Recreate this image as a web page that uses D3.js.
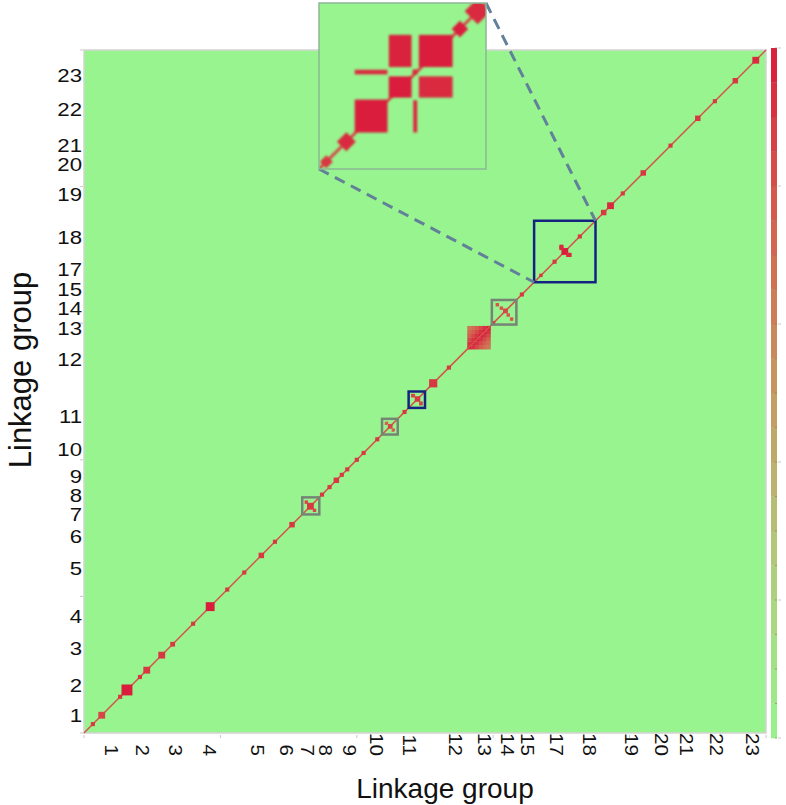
<!DOCTYPE html>
<html><head><meta charset="utf-8">
<script src="https://cdn.jsdelivr.net/npm/d3@7"></script>
<style>body{margin:0;background:#fff}</style>
</head><body>
<svg id="c" width="786" height="805"></svg>
<script>
// ---------- data ----------
const xTickLabels = ["1","2","3","4","5","6","7","8","9","10","11","12","13","14","15","17","18","19","20","21","22","23"];
const xTickPos    = [0.039,0.085,0.134,0.183,0.254,0.296,0.327,0.354,0.389,0.428,0.476,0.544,0.587,0.620,0.650,0.692,0.740,0.802,0.846,0.883,0.927,0.980];
const yTickLabels = ["1","2","3","4","5","6","7","8","9","10","11","12","13","14","15","17","18","19","20","21","22","23"];
const yTickPos    = [0.026,0.070,0.124,0.171,0.240,0.287,0.320,0.347,0.375,0.415,0.463,0.546,0.592,0.621,0.649,0.678,0.725,0.788,0.832,0.860,0.912,0.963];

// diagonal contact blocks: genome position (fraction), block width (fraction), value (0-1)
const diagPos   = [0.013,0.026,0.053,0.063,0.082,0.092,0.114,0.130,0.160,0.185,0.210,0.235,0.260,0.280,0.305,0.332,0.349,0.360,0.370,0.378,0.386,0.400,0.410,0.430,0.449,0.470,0.489,0.512,0.535,0.600,0.618,0.642,0.670,0.690,0.705,0.727,0.762,0.772,0.790,0.820,0.860,0.900,0.925,0.955,0.985];
const diagSize  = [0.006,0.010,0.006,0.016,0.006,0.010,0.010,0.007,0.006,0.013,0.006,0.006,0.008,0.006,0.008,0.010,0.006,0.006,0.008,0.006,0.006,0.006,0.006,0.006,0.007,0.006,0.008,0.012,0.006,0.006,0.007,0.006,0.005,0.006,0.010,0.006,0.008,0.010,0.006,0.008,0.006,0.008,0.006,0.008,0.010];
const diagValue = [0.9,0.85,0.9,1.0,0.9,0.9,0.9,0.9,0.9,1.0,0.9,0.9,0.9,0.9,0.9,0.9,0.9,0.9,0.9,0.9,0.9,0.9,0.9,0.9,0.85,0.9,0.9,0.9,0.9,0.9,0.85,0.9,0.9,0.9,1.0,0.9,0.9,0.95,0.9,0.9,0.9,0.9,0.9,0.9,0.95];

// off-diagonal contacts (row, col, size, value) - drawn symmetrically
const offRow   = [0.326,0.444,0.453,0.482,0.494,0.606,0.612,0.700,0.710];
const offCol   = [0.338,0.454,0.443,0.494,0.483,0.627,0.622,0.712,0.700];
const offSize  = [0.005,0.004,0.004,0.005,0.005,0.005,0.005,0.006,0.006];
const offValue = [0.85,0.75,0.75,0.85,0.85,0.8,0.8,0.95,0.95];

// chromosome-13 high-contact block
const block13Start = 0.562, block13End = 0.596, block13Bins = 6;
const block13Decay = [1.0,0.92,0.84,0.76,0.7,0.65];

// highlighted regions
const boxStart = [0.320,0.437,0.476,0.598,0.660];
const boxEnd   = [0.345,0.460,0.500,0.634,0.750];
const boxKind  = ["gray","gray","blue","gray","blue"];

// inset (zoom of last blue box), coordinates as fraction of inset (u: left->right, v: bottom->top)
const insetRectU0 = [0.214,0.564,0.418,0.598,0.214,0.560,0.418,0.598];
const insetRectU1 = [0.410,0.588,0.554,0.800,0.410,0.590,0.554,0.800];
const insetRectV0 = [0.220,0.220,0.430,0.430,0.570,0.568,0.614,0.614];
const insetRectV1 = [0.418,0.414,0.558,0.558,0.598,0.600,0.808,0.808];
const insetRectVal= [1.0,0.95,1.0,0.95,0.95,0.95,0.97,1.0];
const insetBlobU   = [0.044,0.164,0.844,0.950];
const insetBlobS   = [0.055,0.080,0.070,0.110];
const insetBlobVal = [0.9,0.95,1.0,0.95];

// colour bar
const cbarStops  = [0,0.25,0.5,0.75,1];
const cbarColors = ["#98f48e","#b0cc7c","#c59a60","#d4604e","#da1c3c"];
const cbarBands = 20;

// ---------- drawing ----------
const svg = d3.select("#c");
const x = d3.scaleLinear().domain([0,1]).range([84,766]);
const y = d3.scaleLinear().domain([0,1]).range([733,50]);
const color = d3.scaleLinear().domain(cbarStops).range(cbarColors);
const GREEN = color(0);

const defs = svg.append("defs");
defs.append("filter").attr("id","soft").attr("x","-20%").attr("y","-20%").attr("width","140%").attr("height","140%")
  .append("feGaussianBlur").attr("stdDeviation",0.6);
defs.append("filter").attr("id","soft2").attr("x","-20%").attr("y","-20%").attr("width","140%").attr("height","140%")
  .append("feGaussianBlur").attr("stdDeviation",1.3);

// plot background
svg.append("rect").attr("x",x(0)).attr("y",y(1)).attr("width",x(1)-x(0)).attr("height",y(0)-y(1))
  .attr("fill",GREEN).attr("stroke","#d4d4d4").attr("stroke-width",1.5);

const heat = svg.append("g").attr("filter","url(#soft)");

// chromosome 13 block
const b13 = d3.scaleBand().domain(d3.range(block13Bins)).range([block13Start,block13End]);
for (let i=0;i<block13Bins;i++) for (let j=0;j<block13Bins;j++){
  const v = block13Decay[Math.abs(i-j)];
  heat.append("rect").attr("x",x(b13(i))).attr("y",y(b13(j)+b13.bandwidth()))
    .attr("width",x(b13.bandwidth())-x(0)+0.3).attr("height",x(b13.bandwidth())-x(0)+0.3)
    .attr("fill",color(v));
}

// diagonal line
heat.append("line").attr("x1",x(0)).attr("y1",y(0)).attr("x2",x(1)).attr("y2",y(1))
  .attr("stroke",color(0.8)).attr("stroke-width",1.5);

// diagonal blocks
heat.selectAll("rect.d").data(diagPos).join("rect").attr("class","d")
  .attr("x",(d,i)=>x(d-diagSize[i]/2)).attr("y",(d,i)=>y(d+diagSize[i]/2))
  .attr("width",(d,i)=>x(diagSize[i])-x(0)).attr("height",(d,i)=>x(diagSize[i])-x(0))
  .attr("fill",(d,i)=>color(diagValue[i]));

// off-diagonal contacts
offRow.forEach((r,i)=>{
  const c = offCol[i], s = offSize[i];
  [[r,c],[c,r]].forEach(([a,b])=>{
    heat.append("rect").attr("x",x(a-s/2)).attr("y",y(b+s/2))
      .attr("width",x(s)-x(0)).attr("height",x(s)-x(0)).attr("fill",color(offValue[i]));
  });
});

// highlight boxes
const boxStyle = {gray:{stroke:"#758575",w:2.5},blue:{stroke:"#14237f",w:2.5}};
svg.selectAll("rect.box").data(boxStart).join("rect").attr("class","box")
  .attr("x",(d)=>x(d)).attr("y",(d,i)=>y(boxEnd[i]))
  .attr("width",(d,i)=>x(boxEnd[i])-x(d)).attr("height",(d,i)=>y(boxStart[i])-y(boxEnd[i]))
  .attr("fill","none").attr("stroke",(d,i)=>boxStyle[boxKind[i]].stroke)
  .attr("stroke-width",(d,i)=>boxStyle[boxKind[i]].w);

// inset
const inset = {x:319,y:3,w:167,h:166};
const bi = boxStart.length-1;
svg.append("line").attr("x1",inset.x).attr("y1",inset.y+inset.h).attr("x2",x(boxStart[bi])).attr("y2",y(boxStart[bi]))
  .attr("stroke","#62809a").attr("stroke-width",3).attr("stroke-dasharray","11,7");
svg.append("line").attr("x1",inset.x+inset.w).attr("y1",inset.y).attr("x2",x(boxEnd[bi])).attr("y2",y(boxEnd[bi]))
  .attr("stroke","#62809a").attr("stroke-width",3).attr("stroke-dasharray","11,7");

const iu = d3.scaleLinear().domain([0,1]).range([inset.x,inset.x+inset.w]);
const iv = d3.scaleLinear().domain([0,1]).range([inset.y+inset.h,inset.y]);
svg.append("rect").attr("x",inset.x).attr("y",inset.y).attr("width",inset.w).attr("height",inset.h).attr("fill",GREEN);
const ig = svg.append("g").attr("filter","url(#soft2)");
ig.append("clipPath").attr("id","ic").append("rect").attr("x",inset.x).attr("y",inset.y).attr("width",inset.w).attr("height",inset.h);
ig.attr("clip-path","url(#ic)");
ig.append("line").attr("x1",iu(0)).attr("y1",iv(0)).attr("x2",iu(1)).attr("y2",iv(1)).attr("stroke",color(0.85)).attr("stroke-width",3);
insetRectU0.forEach((u0,i)=>{
  ig.append("rect").attr("x",iu(u0)).attr("y",iv(insetRectV1[i]))
    .attr("width",iu(insetRectU1[i])-iu(u0)).attr("height",iv(insetRectV0[i])-iv(insetRectV1[i]))
    .attr("fill",color(insetRectVal[i]));
});
insetBlobU.forEach((u,i)=>{
  const s = insetBlobS[i];
  ig.append("rect").attr("x",iu(u-s/2)).attr("y",iv(u+s/2)).attr("width",iu(s)-iu(0)).attr("height",iu(s)-iu(0))
    .attr("fill",color(insetBlobVal[i])).attr("transform",`rotate(45,${iu(u)},${iv(u)})`);
});
svg.append("rect").attr("x",inset.x).attr("y",inset.y).attr("width",inset.w).attr("height",inset.h)
  .attr("fill","none").attr("stroke","#8cb896").attr("stroke-width",1.5);

// tiny frame ticks
const ft = d3.range(0,1.0001,0.2);
svg.selectAll("line.ty").data(ft).join("line").attr("x1",x(0)-4).attr("x2",x(0)-1).attr("y1",d=>y(d)).attr("y2",d=>y(d)).attr("stroke","#c8c8c8");
svg.selectAll("line.tx").data(ft).join("line").attr("y1",y(0)+2).attr("y2",y(0)+5).attr("x1",d=>x(d)).attr("x2",d=>x(d)).attr("stroke","#c8c8c8");

// axis tick labels
const FONT = "Liberation Sans, Arial, sans-serif";
svg.selectAll("text.yl").data(yTickLabels).join("text").attr("class","yl")
  .attr("transform",(d,i)=>`translate(82,${y(yTickPos[i])}) scale(1.2,1)`).attr("text-anchor","end").attr("dominant-baseline","central")
  .attr("font-family",FONT).attr("font-size",18.5).attr("fill","#111").text(d=>d);
svg.selectAll("text.xl").data(xTickLabels).join("text").attr("class","xl")
  .attr("transform",(d,i)=>`translate(${x(xTickPos[i])},756) rotate(90) scale(1.18,1)`)
  .attr("text-anchor","end").attr("dominant-baseline","central")
  .attr("font-family",FONT).attr("font-size",17.5).attr("fill","#111").text(d=>d);

// axis titles
svg.append("text").attr("x",445).attr("y",798).attr("text-anchor","middle")
  .attr("font-family",FONT).attr("font-size",28).attr("fill","#111").text("Linkage group");
svg.append("text").attr("transform","translate(31,370) rotate(-90)").attr("text-anchor","middle")
  .attr("font-family",FONT).attr("font-size",31).attr("fill","#111").text("Linkage group");

// colour bar
const cb = d3.scaleLinear().domain([0,1]).range([738,48]);
const bandH = (cb(0)-cb(1))/cbarBands;
svg.selectAll("rect.cb").data(d3.range(cbarBands)).join("rect").attr("class","cb")
  .attr("x",771).attr("y",d=>cb((d+1)/cbarBands)).attr("width",6).attr("height",bandH+0.3)
  .attr("fill",d=>color((d+0.5)/cbarBands));
svg.selectAll("line.cbt").data(d3.range(cbarBands+1)).join("line").attr("class","cbt")
  .attr("x1",775).attr("x2",777).attr("y1",d=>cb(d/cbarBands)).attr("y2",d=>cb(d/cbarBands))
  .attr("stroke","#8a7060").attr("stroke-width",0.6);
svg.selectAll("line.cbm").data(d3.range(0,1.0001,0.2)).join("line").attr("class","cbm")
  .attr("x1",778).attr("x2",781).attr("y1",d=>cb(d)).attr("y2",d=>cb(d)).attr("stroke","#bbb").attr("stroke-width",0.8);
</script>
</body></html>
